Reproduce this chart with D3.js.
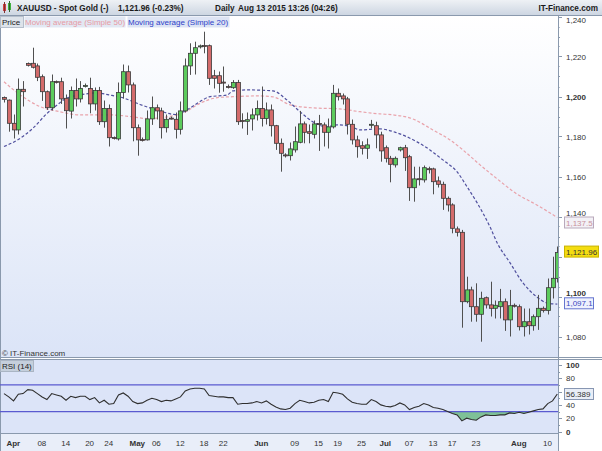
<!DOCTYPE html>
<html><head><meta charset="utf-8">
<script src="https://cdn.jsdelivr.net/npm/d3@7"></script>
<style>body{margin:0;background:#fff;}svg{display:block;font-family:"Liberation Sans",Arial,sans-serif;}</style>
</head><body><svg id="c" width="602" height="451"></svg>
<script>
// ---- data (one entry per daily candle, Mar 31 .. Aug 13 2015) ----
const opens  = [1199.5,1198.2,1186.6,1183.3,1203.6,1216.5,1216.6,1215.3,1209.9,1202.4,1194.4,1207.5,1207.4,1199.1,1192.7,1203.0,1198.8,1205.0,1204.0,1196.3,1203.0,1187.4,1194.0,1179.5,1178.8,1202.0,1212.4,1205.8,1184.4,1178.5,1178.3,1188.8,1194.4,1192.8,1184.4,1189.2,1188.6,1183.6,1192.8,1215.3,1221.6,1225.0,1225.5,1225.4,1210.4,1210.4,1207.2,1205.0,1204.4,1207.0,1188.0,1187.6,1188.8,1190.8,1194.0,1189.0,1193.3,1185.4,1176.6,1170.8,1170.4,1173.3,1177.1,1186.3,1182.4,1181.1,1186.5,1185.8,1182.1,1184.8,1201.6,1200.3,1198.8,1186.1,1178.3,1175.4,1174.1,1186.0,1185.4,1180.8,1174.4,1169.1,1165.8,1173.3,1174.4,1169.9,1154.4,1158.9,1158.3,1163.9,1163.8,1157.8,1156.1,1149.1,1145.8,1133.8,1132.1,1097.4,1103.3,1094.9,1091.1,1099.4,1095.8,1094.1,1094.9,1097.4,1088.3,1095.6,1094.9,1084.9,1087.4,1085.4,1089.9,1094.1,1093.0,1104.4,1109.0];
const highs  = [1200.0,1198.5,1191.0,1209.0,1207.7,1217.0,1224.4,1216.5,1211.0,1203.0,1211.0,1208.0,1209.4,1201.0,1205.0,1209.0,1207.7,1206.5,1209.4,1204.5,1204.8,1198.0,1196.0,1180.0,1207.0,1216.0,1215.5,1207.0,1186.0,1179.5,1193.0,1200.0,1196.0,1194.4,1191.0,1190.0,1192.0,1197.5,1219.0,1226.6,1227.4,1226.0,1232.4,1226.0,1213.3,1212.5,1215.0,1206.0,1208.2,1208.3,1191.6,1192.0,1194.0,1198.0,1205.0,1197.0,1196.0,1185.8,1179.0,1171.6,1177.0,1185.0,1192.8,1187.5,1186.0,1188.0,1190.8,1187.0,1189.0,1205.8,1204.0,1201.5,1199.8,1188.5,1180.4,1177.6,1179.0,1188.3,1187.4,1182.4,1175.5,1170.3,1170.0,1174.9,1175.8,1170.8,1164.9,1164.9,1165.5,1164.9,1164.4,1160.0,1157.4,1150.0,1146.6,1135.0,1133.3,1109.9,1104.9,1106.6,1102.4,1100.0,1107.4,1098.0,1103.8,1099.0,1103.3,1096.5,1096.0,1094.0,1094.0,1091.0,1100.8,1095.0,1109.0,1119.9,1125.0];
const lows   = [1197.0,1182.4,1179.0,1181.0,1195.0,1215.0,1214.0,1207.7,1197.8,1193.3,1193.0,1206.5,1196.3,1184.0,1189.0,1195.0,1197.0,1204.5,1191.6,1193.0,1185.8,1184.4,1175.0,1178.5,1178.0,1199.0,1202.0,1177.6,1170.4,1177.5,1178.0,1185.8,1188.5,1179.0,1182.0,1188.5,1179.0,1181.0,1192.0,1210.8,1211.0,1224.0,1221.6,1205.8,1204.0,1201.9,1202.4,1204.0,1203.8,1185.8,1184.0,1180.8,1183.0,1188.0,1185.0,1186.0,1180.0,1173.3,1162.4,1169.5,1168.0,1172.0,1176.6,1176.6,1176.6,1179.0,1172.8,1175.0,1174.0,1184.0,1198.0,1196.0,1181.0,1176.0,1169.4,1171.0,1168.8,1184.0,1174.1,1167.4,1167.0,1157.1,1164.5,1172.5,1162.8,1147.8,1147.4,1155.5,1157.0,1161.5,1151.1,1154.5,1143.3,1142.5,1131.6,1130.0,1084.4,1096.6,1087.4,1087.4,1077.4,1094.0,1090.0,1089.0,1089.0,1082.8,1080.0,1094.5,1083.0,1080.0,1081.0,1082.9,1083.3,1092.0,1091.0,1099.0,1107.0];
const closes = [1198.6,1186.6,1183.3,1203.6,1202.4,1215.6,1214.6,1209.6,1202.4,1194.4,1207.4,1207.0,1198.8,1192.9,1203.0,1198.8,1204.0,1205.5,1196.3,1203.0,1187.4,1194.0,1179.4,1179.0,1202.0,1212.4,1205.8,1184.4,1178.3,1178.3,1188.8,1194.4,1192.8,1184.4,1188.6,1188.8,1183.6,1192.8,1215.3,1221.6,1224.4,1225.3,1225.3,1209.1,1209.1,1206.6,1206.8,1204.9,1207.0,1187.4,1187.9,1188.4,1190.8,1194.0,1189.0,1193.3,1185.4,1176.6,1171.6,1170.4,1173.8,1177.4,1186.3,1182.1,1181.6,1186.3,1186.3,1182.1,1184.8,1201.6,1199.9,1198.8,1186.1,1178.3,1174.9,1174.1,1175.8,1186.1,1180.8,1172.8,1169.1,1166.1,1169.1,1174.4,1169.4,1154.4,1158.8,1158.8,1164.4,1163.8,1157.4,1156.1,1149.1,1145.8,1134.1,1132.1,1097.4,1103.3,1094.9,1091.1,1099.1,1095.8,1094.1,1095.6,1097.4,1088.3,1095.4,1095.4,1084.9,1087.4,1085.4,1089.9,1094.1,1093.0,1104.4,1109.1,1121.96];
// moving averages: [candle index, value]
const ma20 = [[0,1175],[3,1178.5],[6,1184],[9,1191.5],[11,1195.5],[13,1199],[16,1200.8],[19.5,1201.8],[22,1200.8],[25,1199.3],[28.5,1196],[32,1193.3],[36,1191],[39,1194.3],[41,1197.3],[43,1199.8],[46.8,1200.8],[48,1202.8],[51,1203.3],[56.4,1202.8],[59.3,1198.3],[62.1,1192.3],[64.8,1187.3],[67.7,1184.8],[69.8,1185.8],[72.5,1185.3],[74.6,1183.3],[78.8,1183.8],[82.4,1181.8],[86.6,1177.3],[89.3,1173.3],[92,1168.3],[95,1162.3],[97.1,1154.8],[99.2,1146.8],[101.9,1134.8],[103.4,1126.8],[106.1,1116.8],[108.8,1106.8],[111.7,1099.8],[113.8,1096.8],[116,1096.2]];
const ma50 = [[0,1207.4],[3.4,1200.8],[7.5,1195],[11.7,1192.4],[15.9,1190.8],[22.2,1190.8],[26.4,1190],[30,1189],[34.2,1189.8],[38.4,1192.8],[41.1,1196.6],[45.3,1199.6],[48,1199.9],[53,1200.3],[56.4,1199.8],[60,1195.8],[64.8,1194.3],[70.4,1193.8],[74.6,1192.4],[78.8,1191.3],[81.6,1190.8],[85.7,1188.8],[89.9,1183.3],[93.5,1178.3],[96.2,1173.3],[99.8,1165.8],[103.4,1158.8],[107.5,1151.3],[111.7,1145.8],[116,1139.5]];
const rsi = [57,52,46,56,57,63,62,57,52,48,57,55,53,47,53,51,53,53,48,51,43,47,41,42,55,58,53,45,42,43,47,50,48,45,47,46,49,52,61,64,65,65,64,54,53,52,52,51,51,41,42,42,43,45,43,46,41,37,34,33,35,42,47,45,43,44,47,48,45,59,58,56,49,44,42,41,41,48,45,40,38,37,39,43,40,33,36,38,42,40,36,35,33,30,27,25,16,20,18,17,22,25,24,24,25,25,28,27,29,27,29,31,33,34,42,46,56.389];
const priceTicks = [1080,1100,1140,1160,1180,1200,1220,1240];
const rsiTicks = [0,20,40,80,100];
const xTickIdx = [1,7,12,17,21,27,31,36,41,45,53,60,65,69,74,79,84,89,93,98,107,113];
const xTickLabels = ["Apr","08","14","20","24","May","06","12","18","22","Jun","09","15","19","25","Jul","07","13","17","23","Aug","10"];
const lastPrice = "1,121.96", ma50Last = "1,137.5", ma20Last = "1,097.1", rsiLast = "56.389";

// ---- drawing ----
const svg = d3.select("#c");
const W = 602, plotR = 558;
const defs = svg.append("defs");
const g1 = defs.append("linearGradient").attr("id","gMain").attr("x1",0).attr("x2",0).attr("y1",0).attr("y2",1);
g1.append("stop").attr("offset","0%").attr("stop-color","#ffffff");
g1.append("stop").attr("offset","100%").attr("stop-color","#dbe4f7");
const g2 = defs.append("linearGradient").attr("id","gHead").attr("x1",0).attr("x2",0).attr("y1",0).attr("y2",1);
g2.append("stop").attr("offset","0%").attr("stop-color","#eef1f5");
g2.append("stop").attr("offset","100%").attr("stop-color","#cdd6e2");
defs.append("clipPath").attr("id","clipMain").append("rect").attr("x",0).attr("y",15).attr("width",plotR).attr("height",342);
defs.append("clipPath").attr("id","clipRsi").append("rect").attr("x",0).attr("y",359).attr("width",plotR).attr("height",74);

const x = d3.scaleLinear().domain([0,116]).range([4,557.3]);
const y = d3.scaleLinear().domain([1070,1250]).range([356.5,-3.5]);
const yr = d3.scaleLinear().domain([0,100]).range([431.5,365]);

// backgrounds
svg.append("rect").attr("x",0).attr("y",0).attr("width",W).attr("height",451).attr("fill","#ffffff");
svg.append("rect").attr("x",0).attr("y",15).attr("width",plotR).attr("height",342).attr("fill","url(#gMain)");
svg.append("rect").attr("x",0).attr("y",359).attr("width",plotR).attr("height",74).attr("fill","#dce4f8");
svg.append("rect").attr("x",0).attr("y",433).attr("width",plotR).attr("height",18).attr("fill","#e9eef9");
svg.append("rect").attr("x",0).attr("y",0).attr("width",W).attr("height",15).attr("fill","url(#gHead)");
svg.append("line").attr("x1",0).attr("x2",W).attr("y1",15.5).attr("y2",15.5).attr("stroke","#8a99ad");
svg.append("line").attr("x1",0.5).attr("x2",0.5).attr("y1",15).attr("y2",451).attr("stroke","#8a99ad");
svg.append("line").attr("x1",plotR+0.5).attr("x2",plotR+0.5).attr("y1",15).attr("y2",451).attr("stroke","#8a99ad");
svg.append("line").attr("x1",0).attr("x2",W).attr("y1",357.5).attr("y2",357.5).attr("stroke","#8a99ad");
svg.append("line").attr("x1",0).attr("x2",W).attr("y1",359.5).attr("y2",359.5).attr("stroke","#8a99ad");
svg.append("line").attr("x1",0).attr("x2",plotR).attr("y1",433.5).attr("y2",433.5).attr("stroke","#8a99ad");

// moving averages
const line = d3.line().x(d=>x(d[0])).y(d=>y(d[1])).curve(d3.curveMonotoneX);
const gm = svg.append("g").attr("clip-path","url(#clipMain)");
gm.append("path").attr("d",line(ma50)).attr("fill","none").attr("stroke","#e9a3ab").attr("stroke-width",1.2).attr("stroke-dasharray","3,2");
gm.append("path").attr("d",line(ma20)).attr("fill","none").attr("stroke","#50509e").attr("stroke-width",1.2).attr("stroke-dasharray","3,2");

// candles
const idx = d3.range(opens.length);
const cg = gm.append("g");
cg.selectAll("line.w").data(idx).join("line")
  .attr("x1",i=>Math.round(x(i))+0.5).attr("x2",i=>Math.round(x(i))+0.5)
  .attr("y1",i=>y(highs[i])).attr("y2",i=>y(lows[i]))
  .attr("stroke","#505050").attr("stroke-width",1);
cg.selectAll("rect.b").data(idx).join("rect")
  .attr("x",i=>Math.round(x(i))-1.5).attr("width",4)
  .attr("y",i=>y(Math.max(opens[i],closes[i])))
  .attr("height",i=>Math.max(1,Math.abs(y(opens[i])-y(closes[i]))))
  .attr("fill",i=>closes[i]>opens[i]?"#5ccb5c":"#d36b6b")
  .attr("stroke","#3a3a3a").attr("stroke-width",0.8);

// header
svg.append("rect").attr("x",3).attr("y",4).attr("width",3).attr("height",7).attr("fill","#d04040");
svg.append("line").attr("x1",4.5).attr("x2",4.5).attr("y1",2).attr("y2",13).attr("stroke","#803030");
svg.append("rect").attr("x",8).attr("y",3).attr("width",3).attr("height",7).attr("fill","#40b040");
svg.append("line").attr("x1",9.5).attr("x2",9.5).attr("y1",1).attr("y2",12).attr("stroke","#306030");
const ht = svg.append("g").attr("font-size",8.2).attr("font-weight","bold").attr("fill","#1a1a1a");
ht.append("text").attr("x",17).attr("y",11).text("XAUUSD - Spot Gold (-)");
ht.append("text").attr("x",118).attr("y",11).text("1,121.96 (-0.23%)");
ht.append("text").attr("x",215).attr("y",11).text("Daily");
ht.append("text").attr("x",238).attr("y",11).text("Aug 13 2015 13:26 (04:26)");
ht.append("text").attr("x",598).attr("y",11).attr("text-anchor","end").text("IT-Finance.com");

// legend row
svg.append("rect").attr("x",0.5).attr("y",16.5).attr("width",23).attr("height",11).attr("fill","#dde3ea").attr("stroke","#b5bfcc");
svg.append("text").attr("x",2).attr("y",25).attr("font-size",8).attr("fill","#222").text("Price");
svg.append("rect").attr("x",24.5).attr("y",16.5).attr("width",101).attr("height",11).attr("fill","#e2e8f3");
svg.append("text").attr("x",25).attr("y",25).attr("font-size",8).attr("fill","#e79aa4").text("Moving average (Simple 50)");
svg.append("rect").attr("x",127.5).attr("y",16.5).attr("width",102).attr("height",11).attr("fill","#dde4f4");
svg.append("text").attr("x",128).attr("y",25).attr("font-size",8).attr("fill","#2f3fc8").text("Moving average (Simple 20)");

// copyright
svg.append("text").attr("x",2).attr("y",356).attr("font-size",8).attr("fill","#333").text("\u00a9 IT-Finance.com");

// price axis
const pa = svg.append("g");
pa.selectAll("line.mt").data(d3.range(1075,1250,5)).join("line")
  .attr("x1",plotR).attr("x2",d=>plotR+(d%20===0?4:2)).attr("y1",d=>Math.round(y(d))+0.5).attr("y2",d=>Math.round(y(d))+0.5)
  .attr("stroke","#8a99ad").attr("opacity",d=>d%10===0?1:0.6);
pa.selectAll("text").data(priceTicks).join("text")
  .attr("x",566).attr("y",d=>Math.max(y(d),20)+(d===1140?-1:d===1100?-1:3)).attr("font-size",8)
  .attr("font-weight",d=>d%100===0?"bold":"normal").attr("fill","#333")
  .text(d=>d3.format(",")(d));

// value boxes
function vbox(yy, txt, bg, stroke, col, w){
  svg.append("rect").attr("x",564.5).attr("y",yy-5.5).attr("width",w).attr("height",11).attr("fill",bg).attr("stroke",stroke);
  svg.append("text").attr("x",566).attr("y",yy+3).attr("font-size",8).attr("fill",col).text(txt);
}
vbox(y(1137.5)+1, ma50Last, "#f3f1f6", "#b9a9bb", "#c7909c", 29);
vbox(y(1121.96)-1, lastPrice, "#f4dd10", "#c9b200", "#333", 34);
vbox(y(1097.1)+1, ma20Last, "#eef1fd", "#6575cf", "#3848c0", 29);

// RSI panel
const gr = svg.append("g").attr("clip-path","url(#clipRsi)");
const rsiPts = rsi.map((v,i)=>[i,v]);
gr.append("path").datum(rsiPts)
  .attr("d",d3.area().x(d=>x(d[0])).y0(yr(30)).y1(d=>yr(Math.min(d[1],30))))
  .attr("fill","#6dbb86").attr("opacity",0.85);
[70,30].forEach(v=>gr.append("line").attr("x1",0).attr("x2",plotR).attr("y1",yr(v)).attr("y2",yr(v)).attr("stroke","#5a5ad0").attr("stroke-width",1.2));
gr.append("path").datum(rsiPts).attr("d",d3.line().x(d=>x(d[0])).y(d=>yr(d[1]))).attr("fill","none").attr("stroke","#2f2f2f").attr("stroke-width",1.1);
svg.append("rect").attr("x",0.5).attr("y",360.5).attr("width",33).attr("height",11).attr("fill","#c5cfdc").attr("stroke","#aab5c4");
svg.append("text").attr("x",2).attr("y",369).attr("font-size",8).attr("fill","#222").text("RSI (14)");
const ra = svg.append("g");
ra.selectAll("line").data(d3.range(0,101,10)).join("line")
  .attr("x1",plotR).attr("x2",d=>plotR+(d%20===0?4:2)).attr("y1",d=>Math.round(yr(d))+0.5).attr("y2",d=>Math.round(yr(d))+0.5).attr("stroke","#8a99ad");
ra.selectAll("text").data(rsiTicks).join("text")
  .attr("x",566).attr("y",d=>yr(d)+3).attr("font-size",8)
  .attr("font-weight",d=>(d===0||d===100)?"bold":"normal").attr("fill","#333").text(d=>d);
svg.append("rect").attr("x",564.5).attr("y",yr(56.389)-5.5).attr("width",29).attr("height",11).attr("fill","#e9eef7").attr("stroke","#8796b2");
svg.append("text").attr("x",566).attr("y",yr(56.389)+3).attr("font-size",8).attr("fill","#333").text(rsiLast);

// x axis
svg.append("g").selectAll("text").data(xTickIdx).join("text")
  .attr("x",(d,i)=>x(d)+4.5).attr("y",446).attr("text-anchor","middle").attr("font-size",8)
  .attr("font-weight",(d,i)=>/[A-Za-z]/.test(xTickLabels[i])?"bold":"normal").attr("fill","#333")
  .text((d,i)=>xTickLabels[i]);
</script></body></html>
